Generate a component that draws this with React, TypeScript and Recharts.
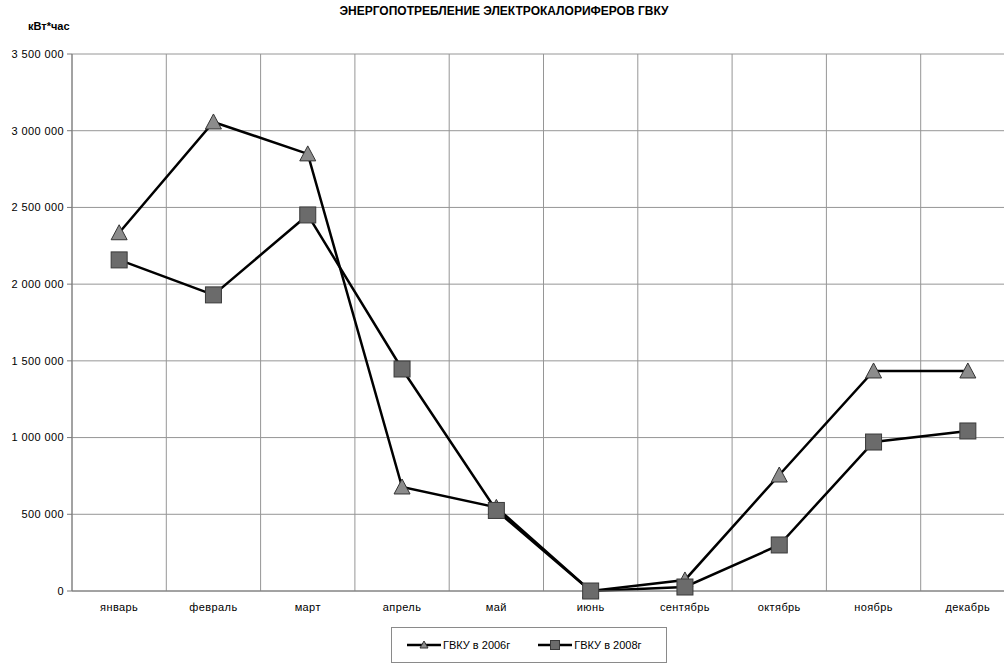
import React from "react";
import { LineChart, Line, XAxis, YAxis, CartesianGrid, Legend } from "recharts";

const months = [
  "январь",
  "февраль",
  "март",
  "апрель",
  "май",
  "июнь",
  "сентябрь",
  "октябрь",
  "ноябрь",
  "декабрь",
];

// кВт*час по месяцам
const gvku2006 = [2335000, 3057000, 2849000, 678000, 545000, 0, 72000, 756000, 1434000, 1434000];
const gvku2008 = [2158000, 1930000, 2451000, 1447000, 525000, 0, 26000, 300000, 971000, 1043000];

const yTicks = [0, 500000, 1000000, 1500000, 2000000, 2500000, 3000000, 3500000];

const FONT = '"Liberation Sans", Arial, sans-serif';

// each month sits in the middle of its own slot, grid lines go on slot edges
const data = months.map((m, i) => ({
  pos: i + 0.5,
  month: m,
  y2006: gvku2006[i],
  y2008: gvku2008[i],
}));
const slotCenters = months.map((_, i) => i + 0.5);
const slotEdges = [...months.map((_, i) => i), months.length];

const fmt = (v: number) => String(v).replace(/\B(?=(\d{3})+(?!\d))/g, " ");

function Triangle(props: any) {
  const { cx, cy } = props;
  if (cx == null || cy == null) return null;
  return (
    <polygon
      key={`t-${props.index}`}
      points={`${cx},${cy - 8} ${cx - 8},${cy + 7} ${cx + 8},${cy + 7}`}
      fill="#8c8c8c"
      stroke="#333"
      strokeWidth={1}
    />
  );
}

function Square(props: any) {
  const { cx, cy } = props;
  if (cx == null || cy == null) return null;
  return (
    <rect
      key={`s-${props.index}`}
      x={cx - 8}
      y={cy - 8}
      width={16}
      height={16}
      fill="#6b6b6b"
      stroke="#3a3a3a"
      strokeWidth={1}
    />
  );
}

function LegendBox() {
  const item = (marker: React.ReactNode, label: string) => (
    <div style={{ display: "flex", alignItems: "center" }}>
      <svg width={34} height={12} style={{ marginRight: 2 }}>
        <line x1={0} y1={6} x2={34} y2={6} stroke="#000" strokeWidth={2.5} />
        {marker}
      </svg>
      <span>{label}</span>
    </div>
  );
  return (
    <div
      style={{
        boxSizing: "border-box",
        width: 276,
        height: 36,
        border: "1px solid #8a8a8a",
        background: "#fff",
        display: "flex",
        alignItems: "center",
        paddingLeft: 15,
        gap: 28,
        fontFamily: FONT,
        fontSize: 11,
        color: "#000",
      }}
    >
      {item(
        <polygon points="17,2 13,9 21,9" fill="#8c8c8c" stroke="#333" strokeWidth={1} />,
        "ГВКУ в 2006г"
      )}
      {item(
        <rect x={12.5} y={1.5} width={9} height={9} fill="#6b6b6b" stroke="#3a3a3a" strokeWidth={1} />,
        "ГВКУ в 2008г"
      )}
    </div>
  );
}

export default function App() {
  return (
    <div
      style={{
        position: "absolute",
        left: 0,
        top: 0,
        width: 1004,
        height: 665,
        overflow: "hidden",
        background: "#fff",
      }}
    >
      <div
        style={{
          position: "absolute",
          left: 0,
          width: 1008,
          top: 4,
          textAlign: "center",
          fontFamily: FONT,
          fontWeight: "bold",
          fontSize: 12,
          color: "#000",
          zIndex: 2,
        }}
      >
        ЭНЕРГОПОТРЕБЛЕНИЕ ЭЛЕКТРОКАЛОРИФЕРОВ ГВКУ
      </div>
      <div
        style={{
          position: "absolute",
          left: 28,
          top: 20,
          fontFamily: FONT,
          fontWeight: "bold",
          fontSize: 11,
          color: "#000",
          zIndex: 2,
        }}
      >
        кВт*час
      </div>
      <LineChart
        width={1040}
        height={665}
        data={data}
        margin={{ top: 54, right: 25, bottom: 8, left: 0 }}
        style={{ fontFamily: FONT }}
      >
        <CartesianGrid xAxisId="grid" stroke="#969696" strokeWidth={1} />
        {/* hidden axis on slot edges, only feeds the vertical grid lines */}
        <XAxis
          xAxisId="grid"
          type="number"
          dataKey="pos"
          domain={[0, months.length]}
          ticks={slotEdges}
          interval={0}
          hide
        />
        <XAxis
          xAxisId="cat"
          type="number"
          dataKey="pos"
          domain={[0, months.length]}
          ticks={slotCenters}
          interval={0}
          tickFormatter={(v: number) => months[Math.floor(v)]}
          tickLine={false}
          tickSize={6}
          tickMargin={6}
          height={30}
          axisLine={{ stroke: "#7a7a7a" }}
          tick={{ fontSize: 11, fill: "#000", letterSpacing: 0.4 }}
        />
        <YAxis
          type="number"
          domain={[0, 3500000]}
          ticks={yTicks}
          interval={0}
          width={72}
          tickFormatter={fmt}
          tickSize={5}
          tickMargin={3}
          axisLine={{ stroke: "#7a7a7a" }}
          tickLine={{ stroke: "#7a7a7a" }}
          tick={{ fontSize: 11, fill: "#000", letterSpacing: 0.4 }}
        />
        <Legend
          content={() => <LegendBox />}
          wrapperStyle={{ position: "absolute", left: 391, top: 627, width: 276, height: 36 }}
        />
        <Line
          xAxisId="cat"
          type="linear"
          dataKey="y2006"
          name="ГВКУ в 2006г"
          stroke="#000"
          strokeWidth={2.5}
          dot={Triangle}
          activeDot={false}
          isAnimationActive={false}
        />
        <Line
          xAxisId="cat"
          type="linear"
          dataKey="y2008"
          name="ГВКУ в 2008г"
          stroke="#000"
          strokeWidth={2.5}
          dot={Square}
          activeDot={false}
          isAnimationActive={false}
        />
      </LineChart>
    </div>
  );
}
